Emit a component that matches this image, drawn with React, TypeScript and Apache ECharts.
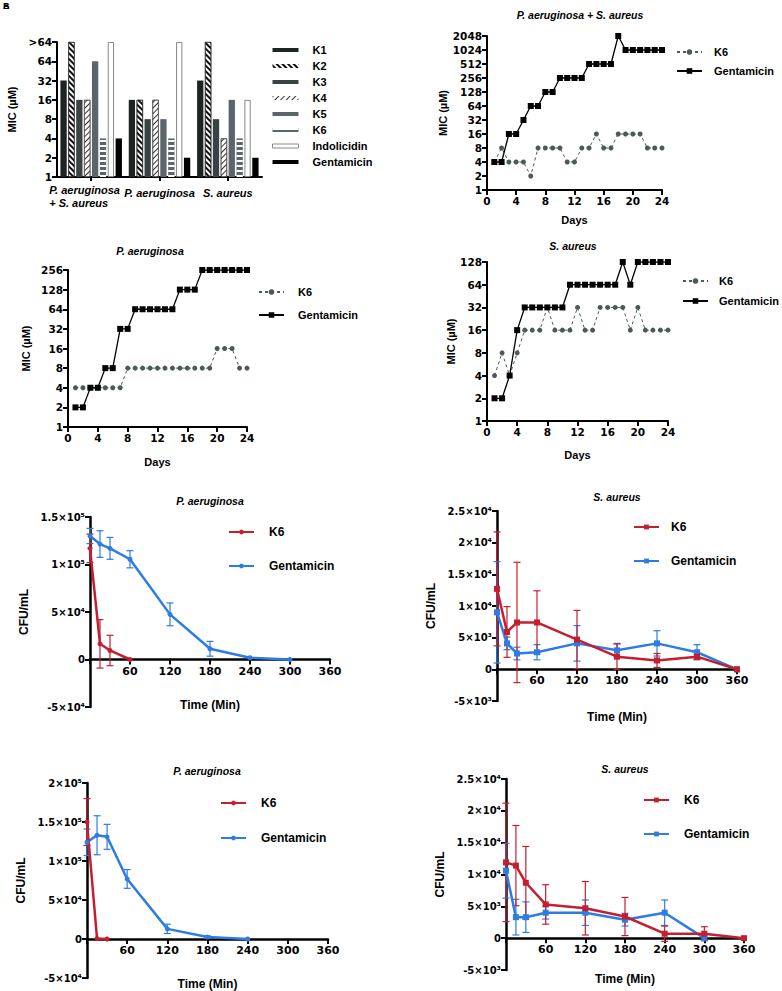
import React, { useEffect, useRef } from 'react';
import * as echarts from 'echarts';

const TXT = '"Liberation Sans", Arial, sans-serif';
const NUM = '"DejaVu Sans", sans-serif';

// ---------- Panel A: MIC of peptides (bar chart) ----------
const barCategories = ['P. aeruginosa\n+ S. aureus', 'P. aeruginosa', 'S. aureus'];
const micTickValues = [1, 2, 4, 8, 16, 32, 64, 128];
const micTickLabels = ['1', '2', '4', '8', '16', '32', '64', '>64'];
const barNames = ['K1', 'K2', 'K3', 'K4', 'K5', 'K6', 'Indolicidin', 'Gentamicin'];
const barK1 = [32, 16, 32];
const barK2 = [128, 16, 128];
const barK3 = [16, 8, 8];
const barK4 = [16, 16, 4];
const barK5 = [64, 8, 16];
const barK6 = [4, 4, 4];
const barIndolicidin = [128, 128, 16];
const barGentamicin = [4, 2, 2];

// ---------- Serial passage MIC (days) ----------
const days = [1, 2, 3, 4, 5, 6, 7, 8, 9, 10, 11, 12, 13, 14, 15, 16, 17, 18, 19, 20, 21, 22, 23, 24];
const mixK6 = [4, 8, 4, 4, 4, 2, 8, 8, 8, 8, 4, 4, 8, 8, 16, 8, 8, 16, 16, 16, 16, 8, 8, 8];
const mixGenta = [4, 4, 16, 16, 32, 64, 64, 128, 128, 256, 256, 256, 256, 512, 512, 512, 512, 2048, 1024, 1024, 1024, 1024, 1024, 1024];
const paK6 = [4, 4, 4, 4, 4, 4, 4, 8, 8, 8, 8, 8, 8, 8, 8, 8, 8, 8, 8, 16, 16, 16, 8, 8];
const paGenta = [2, 2, 4, 4, 8, 8, 32, 32, 64, 64, 64, 64, 64, 64, 128, 128, 128, 256, 256, 256, 256, 256, 256, 256];
const saK6 = [4, 8, 4, 8, 16, 16, 16, 32, 16, 16, 16, 32, 16, 16, 32, 32, 32, 32, 16, 32, 16, 16, 16, 16];
const saGenta = [2, 2, 4, 16, 32, 32, 32, 32, 32, 32, 64, 64, 64, 64, 64, 64, 64, 128, 64, 128, 128, 128, 128, 128];

// ---------- Time-kill CFU/mL ----------
// E: P. aeruginosa (top)
const eK6Time = [0, 15, 30, 60];
const eK6Mean = [117000, 16500, 9500, 0];
const eK6Err = [15000, 25500, 16000, 0];
const eGenTime = [0, 15, 30, 60, 120, 180, 240, 300];
const eGenMean = [130000, 121500, 117000, 105500, 47500, 11300, 1800, 0];
const eGenErr = [8000, 14000, 11500, 9000, 12000, 7800, 0, 0];
// F: S. aureus (top)
const fK6Time = [0, 15, 30, 60, 120, 180, 240, 300, 360];
const fK6Mean = [12700, 5900, 7400, 7400, 4700, 2000, 1400, 2000, 0];
const fK6Err = [9000, 4000, 9500, 5000, 4600, 2000, 1100, 400, 0];
const fGenTime = [0, 15, 30, 60, 120, 180, 240, 300, 360];
const fGenMean = [9000, 4100, 2500, 2700, 4100, 3000, 4100, 2700, 0];
const fGenErr = [8000, 1000, 1000, 1200, 2800, 1100, 2000, 1200, 0];
// G: P. aeruginosa (bottom)
const gK6Time = [0, 15, 30];
const gK6Mean = [150000, 500, 0];
const gK6Err = [30000, 0, 0];
const gGenTime = [0, 15, 30, 60, 120, 180, 240];
const gGenMean = [124000, 133000, 131000, 77000, 13000, 2500, 0];
const gGenErr = [17000, 25000, 16000, 12000, 6000, 1500, 0];
// H: S. aureus (bottom)
const hK6Time = [0, 15, 30, 60, 120, 180, 240, 300, 360];
const hK6Mean = [11900, 11400, 8700, 5300, 4700, 3400, 700, 700, 0];
const hK6Err = [9300, 6300, 5700, 3100, 4200, 3000, 1200, 1100, 0];
const hGenTime = [0, 15, 30, 60, 120, 180, 240, 300];
const hGenMean = [10600, 3300, 3300, 4000, 4000, 2900, 4000, 0];
const hGenErr = [4300, 2800, 2400, 1000, 2000, 1000, 2000, 0];

const RED = '#c41f30';
const BLUE = '#2d7be4';
const MIC_GRAY = '#4b5957';

const SUP: Record<string, string> = { '0': '⁰', '1': '¹', '2': '²', '3': '³', '4': '⁴', '5': '⁵', '6': '⁶', '7': '⁷', '8': '⁸', '9': '⁹' };
function sci(v: number): string {
  if (Math.abs(v) < 1e-9) return '0';
  const a = Math.abs(v);
  const e = Math.floor(Math.log10(a) + 1e-9);
  const m = Math.round((a / Math.pow(10, e)) * 10) / 10;
  return (v < 0 ? '-' : '') + String(m) + '×10' + String(e).split('').map((c) => SUP[c]).join('');
}

const axisLineBlack = (w: number) => ({ show: true, onZero: false, lineStyle: { color: '#000', width: w } });
const tickBlack = (w: number) => ({ show: true, length: 5, lineStyle: { color: '#000', width: w } });
const numLabel = (size: number) => ({ fontFamily: NUM, fontSize: size, fontWeight: 'bold' as const, color: '#000' });
const nameStyle = (size: number) => ({ fontFamily: TXT, fontSize: size, fontWeight: 'bold' as const, color: '#000' });

function titleOpt(text: string, x: number, y: number, size: number) {
  return {
    text,
    left: x,
    top: y - size * 0.7,
    textAlign: 'center',
    padding: 0,
    textStyle: { fontFamily: TXT, fontSize: size, fontStyle: 'italic', fontWeight: 'bold', color: '#000' },
  };
}

function micLabel(v: number) {
  const r = Math.round(v);
  const i = micTickValues.indexOf(r);
  return i >= 0 ? micTickLabels[i] : String(r);
}

function barOption() {
  const styles: any[] = [
    { color: '#1e2424' },
    { color: '#fff', borderColor: '#222', borderWidth: 0.6, decal: { symbol: 'rect', symbolSize: 1, color: '#111', backgroundColor: '#fff', dashArrayX: [1, 0], dashArrayY: [1.3, 1.7], rotation: Math.PI / 4 } },
    { color: '#3a4343' },
    { color: '#fff', borderColor: '#444', borderWidth: 0.6, decal: { symbol: 'rect', symbolSize: 1, color: '#333', backgroundColor: '#fff', dashArrayX: [1, 0], dashArrayY: [1, 2.6], rotation: -Math.PI / 4 } },
    { color: '#5c666a' },
    { color: '#5c666a', decal: { symbol: 'rect', symbolSize: 1, color: '#fff', backgroundColor: '#5c666a', dashArrayX: [1, 0], dashArrayY: [2, 3], rotation: 0 } },
    { color: '#fff', borderColor: '#888', borderWidth: 1 },
    { color: '#000' },
  ];
  const values = [barK1, barK2, barK3, barK4, barK5, barK6, barIndolicidin, barGentamicin];
  const italic = { fontFamily: TXT, fontSize: 11, fontStyle: 'italic', fontWeight: 'bold', color: '#000', lineHeight: 13 };
  return {
    animation: false,
    grid: { left: 57, top: 42, width: 205, height: 135, outerBoundsMode: 'none' },
    graphic: [
      { type: 'text', left: 3, top: 1, style: { text: 'A', fontFamily: TXT, fontSize: 9, fontWeight: 'bold', fill: '#000' } },
      { type: 'text', left: 3, top: 1, style: { text: 'B', fontFamily: TXT, fontSize: 9, fontWeight: 'bold', fill: '#000' } },
    ],
    legend: {
      orient: 'vertical', left: 272, top: 43, padding: 0, itemWidth: 26, itemHeight: 4, itemGap: 2, icon: 'rect',
      data: barNames.map((n) => (n === 'Indolicidin'
        ? { name: n, itemStyle: { borderColor: '#888', borderWidth: 1 } }
        : { name: n, itemStyle: { borderWidth: 0 } })),
      textStyle: { fontFamily: TXT, fontSize: 11, fontWeight: 'bold', color: '#000', lineHeight: 14, padding: [0, 0, 0, 9] },
    },
    xAxis: {
      type: 'category', data: barCategories,
      axisLine: axisLineBlack(2),
      axisTick: { show: true, alignWithLabel: true, length: 4, lineStyle: { color: '#000', width: 2 } },
      axisLabel: {
        interval: 0, margin: 6,
        formatter: (v: string) => (v.indexOf('\n') >= 0 ? v.split('\n').map((s) => `{l|${s}}`).join('\n') : `{c|${v}}`),
        rich: { l: { ...italic, width: 84, align: 'left' }, c: { ...italic, padding: [7, 0, 0, 0] } },
      },
    },
    yAxis: {
      type: 'log', logBase: 2, min: 1, max: 128, splitNumber: 7,
      name: 'MIC (µM)', nameLocation: 'middle', nameGap: 28, nameTextStyle: nameStyle(11),
      axisLine: axisLineBlack(2), axisTick: tickBlack(2), splitLine: { show: false },
      axisLabel: { ...numLabel(10.5), margin: 5, formatter: micLabel },
    },
    series: barNames.map((n, i) => ({
      type: 'bar', name: n, data: values[i], barGap: '25%', barCategoryGap: '10%', itemStyle: styles[i],
    })),
  };
}

interface MicP {
  title: string; tx: number; ty: number;
  grid: number[]; yMax: number; levels: number; interval?: number;
  k6: number[]; genta: number[];
  lx: number; ly: number; lgap: number; lpad: number;
  yGap: number; xGap: number;
}
function micOption(p: MicP) {
  const yAxis: any = {
    type: 'log', logBase: 2, min: 1, max: p.yMax, splitNumber: p.levels,
    name: 'MIC (µM)', nameLocation: 'middle', nameGap: p.yGap, nameTextStyle: nameStyle(11),
    axisLine: axisLineBlack(2), axisTick: tickBlack(2), splitLine: { show: false },
    axisLabel: { ...numLabel(10.5), margin: 5, formatter: (v: number) => String(Math.round(v)) },
  };
  if (p.interval) yAxis.interval = p.interval;
  return {
    animation: false,
    title: titleOpt(p.title, p.tx, p.ty, 10.5),
    grid: { left: p.grid[0], top: p.grid[1], width: p.grid[2], height: p.grid[3], outerBoundsMode: 'none' },
    legend: {
      orient: 'vertical', left: p.lx, top: p.ly - 7, padding: 0, itemWidth: 25, itemHeight: 7, itemGap: p.lgap,
      data: ['K6', 'Gentamicin'],
      textStyle: { fontFamily: TXT, fontSize: 11, fontWeight: 'bold', color: '#000', lineHeight: 14, padding: [0, 0, 0, p.lpad] },
    },
    xAxis: {
      type: 'value', min: 0, max: 24, interval: 4,
      name: 'Days', nameLocation: 'middle', nameGap: p.xGap, nameTextStyle: nameStyle(11),
      axisLine: axisLineBlack(2), axisTick: tickBlack(2), splitLine: { show: false },
      axisLabel: { ...numLabel(10.5), margin: 5 },
    },
    yAxis,
    series: [
      {
        type: 'line', name: 'K6', data: days.map((d, i) => [d, p.k6[i]]),
        symbol: 'circle', symbolSize: 5, lineStyle: { type: [3, 3], width: 1, color: MIC_GRAY }, itemStyle: { color: MIC_GRAY },
      },
      {
        type: 'line', name: 'Gentamicin', data: days.map((d, i) => [d, p.genta[i]]),
        symbol: 'rect', symbolSize: 6, lineStyle: { width: 1.3, color: '#000' }, itemStyle: { color: '#000' },
      },
    ],
  };
}

function errorSeries(name: string, times: number[], means: number[], errs: number[], color: string) {
  return {
    type: 'custom', name, silent: true,
    data: times.map((t, i) => [t, means[i], errs[i]]),
    encode: { x: 0, y: 1 },
    renderItem: (_params: any, api: any) => {
      const x = api.value(0);
      const y = api.value(1);
      const e = api.value(2);
      if (!e) return null;
      const a = api.coord([x, y + e]);
      const b = api.coord([x, y - e]);
      const hw = 3.5;
      const style = { stroke: color, lineWidth: 1.2 };
      return {
        type: 'group',
        children: [
          { type: 'line', shape: { x1: a[0], y1: a[1], x2: b[0], y2: b[1] }, style },
          { type: 'line', shape: { x1: a[0] - hw, y1: a[1], x2: a[0] + hw, y2: a[1] }, style },
          { type: 'line', shape: { x1: b[0] - hw, y1: b[1], x2: b[0] + hw, y2: b[1] }, style },
        ],
      };
    },
  };
}

interface CfuP {
  title: string; tx: number; ty: number;
  grid: number[]; yMin: number; yMax: number; yStep: number;
  k6T: number[]; k6M: number[]; k6E: number[];
  gT: number[]; gM: number[]; gE: number[];
  symbol: string; symSize: number;
  lx: number; ly: number; lgap: number; lpad: number;
  yGap: number; xGap: number;
}
function cfuOption(p: CfuP) {
  // the x axis crosses the y axis at value 0: raise it from the grid bottom by the share of the range below 0
  const zeroOffset = -((0 - p.yMin) / (p.yMax - p.yMin)) * p.grid[3];
  return {
    animation: false,
    title: titleOpt(p.title, p.tx, p.ty, 10.5),
    grid: { left: p.grid[0], top: p.grid[1], width: p.grid[2], height: p.grid[3], outerBoundsMode: 'none' },
    legend: {
      orient: 'vertical', left: p.lx, top: p.ly - 7, padding: 0, itemWidth: 25, itemHeight: 6, itemGap: p.lgap,
      data: ['K6', 'Gentamicin'],
      textStyle: { fontFamily: TXT, fontSize: 12, fontWeight: 'bold', color: '#000', lineHeight: 14, padding: [0, 0, 0, p.lpad] },
    },
    xAxis: {
      type: 'value', min: 0, max: 360, interval: 60, position: 'bottom', offset: zeroOffset,
      name: 'Time (Min)', nameLocation: 'middle', nameGap: p.xGap, nameTextStyle: nameStyle(12),
      axisLine: axisLineBlack(2.5), axisTick: tickBlack(2), splitLine: { show: false },
      axisLabel: { ...numLabel(11), margin: 6, formatter: (v: number) => (v === 0 ? '' : String(v)) },
    },
    yAxis: {
      type: 'value', min: p.yMin, max: p.yMax, interval: p.yStep,
      name: 'CFU/mL', nameLocation: 'middle', nameGap: p.yGap, nameTextStyle: nameStyle(12),
      axisLine: axisLineBlack(2.5), axisTick: tickBlack(2), splitLine: { show: false },
      axisLabel: { ...numLabel(10), margin: 5, formatter: sci },
    },
    series: [
      errorSeries('Gentamicin SD', p.gT, p.gM, p.gE, BLUE),
      errorSeries('K6 SD', p.k6T, p.k6M, p.k6E, RED),
      {
        type: 'line', name: 'Gentamicin', data: p.gT.map((t, i) => [t, p.gM[i]]),
        symbol: p.symbol, symbolSize: p.symSize, lineStyle: { width: 2.5, color: BLUE }, itemStyle: { color: BLUE },
      },
      {
        type: 'line', name: 'K6', data: p.k6T.map((t, i) => [t, p.k6M[i]]),
        symbol: p.symbol, symbolSize: p.symSize, lineStyle: { width: 2.5, color: RED }, itemStyle: { color: RED },
      },
    ],
  };
}

function Panel({ left, top, width, height, option }: { left: number; top: number; width: number; height: number; option: any }) {
  const ref = useRef<HTMLDivElement>(null);
  useEffect(() => {
    if (!ref.current) return;
    const chart = echarts.init(ref.current, null, { renderer: 'svg' });
    chart.setOption(option);
    return () => chart.dispose();
  }, []);
  return <div ref={ref} style={{ position: 'absolute', left, top, width, height }} />;
}

export default function App() {
  const W = 391;
  return (
    <div style={{ position: 'fixed', left: 0, top: 0, width: 782, height: 991, background: '#fff', overflow: 'hidden' }}>
      <Panel left={0} top={0} width={W} height={230} option={barOption()} />
      <Panel left={391} top={0} width={W} height={230} option={micOption({
        title: 'P. aeruginosa + S. aureus', tx: 189, ty: 17, grid: [96, 36, 175, 154], yMax: 2048, levels: 11, interval: 1,
        k6: mixK6, genta: mixGenta, lx: 285, ly: 52, lgap: 5, lpad: 7, yGap: 38, xGap: 24,
      })} />
      <Panel left={0} top={230} width={W} height={240} option={micOption({
        title: 'P. aeruginosa', tx: 150, ty: 23, grid: [68, 40, 179, 157], yMax: 256, levels: 8,
        k6: paK6, genta: paGenta, lx: 258, ly: 62, lgap: 9, lpad: 9, yGap: 37, xGap: 29,
      })} />
      <Panel left={391} top={230} width={W} height={240} option={micOption({
        title: 'S. aureus', tx: 182, ty: 18, grid: [96, 32, 181, 159], yMax: 128, levels: 7,
        k6: saK6, genta: saGenta, lx: 291, ly: 51, lgap: 6, lpad: 6, yGap: 29, xGap: 28,
      })} />
      <Panel left={0} top={470} width={W} height={260} option={cfuOption({
        title: 'P. aeruginosa', tx: 210, ty: 33, grid: [90, 47, 240, 190], yMin: -50000, yMax: 150000, yStep: 50000,
        k6T: eK6Time, k6M: eK6Mean, k6E: eK6Err, gT: eGenTime, gM: eGenMean, gE: eGenErr,
        symbol: 'circle', symSize: 5, lx: 228, ly: 62, lgap: 20, lpad: 10, yGap: 59, xGap: 39,
      })} />
      <Panel left={391} top={470} width={W} height={260} option={cfuOption({
        title: 'S. aureus', tx: 226, ty: 29, grid: [106, 41, 240, 190], yMin: -5000, yMax: 25000, yStep: 5000,
        k6T: fK6Time, k6M: fK6Mean, k6E: fK6Err, gT: fGenTime, gM: fGenMean, gE: fGenErr,
        symbol: 'rect', symSize: 6, lx: 242, ly: 57, lgap: 20, lpad: 7, yGap: 59, xGap: 42,
      })} />
      <Panel left={0} top={730} width={W} height={261} option={cfuOption({
        title: 'P. aeruginosa', tx: 207, ty: 43, grid: [87, 53, 241, 195], yMin: -50000, yMax: 200000, yStep: 50000,
        k6T: gK6Time, k6M: gK6Mean, k6E: gK6Err, gT: gGenTime, gM: gGenMean, gE: gGenErr,
        symbol: 'circle', symSize: 5, lx: 220, ly: 73, lgap: 21, lpad: 10, yGap: 56, xGap: 39,
      })} />
      <Panel left={391} top={730} width={W} height={261} option={cfuOption({
        title: 'S. aureus', tx: 234, ty: 41, grid: [115, 49, 238, 191], yMin: -5000, yMax: 25000, yStep: 5000,
        k6T: hK6Time, k6M: hK6Mean, k6E: hK6Err, gT: hGenTime, gM: hGenMean, gE: hGenErr,
        symbol: 'rect', symSize: 6, lx: 252, ly: 70, lgap: 20, lpad: 10, yGap: 60, xGap: 35,
      })} />
    </div>
  );
}
